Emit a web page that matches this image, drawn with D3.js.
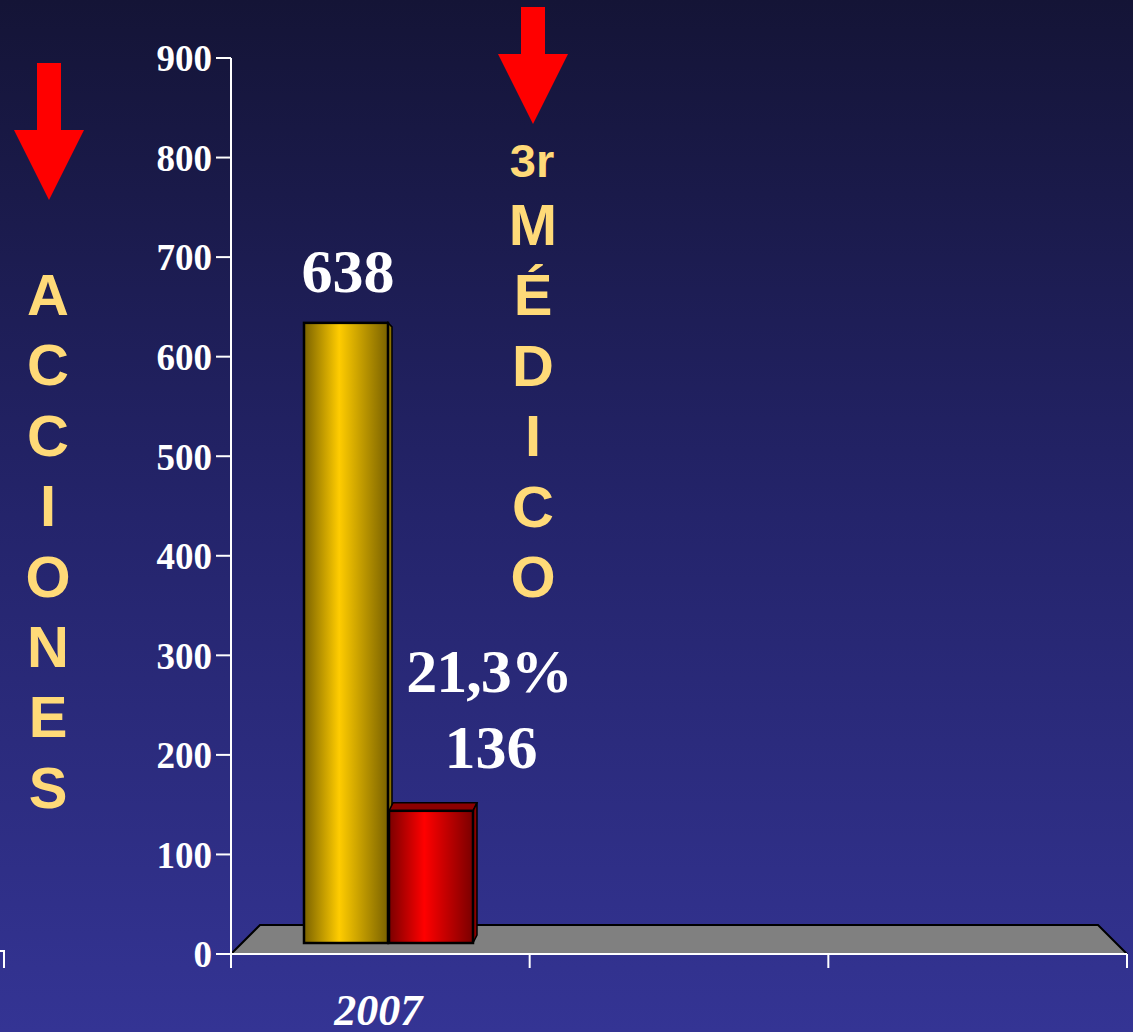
<!DOCTYPE html>
<html>
<head>
<meta charset="utf-8">
<script src="https://cdn.jsdelivr.net/npm/d3@7/dist/d3.min.js"></script>
<style>
  html, body { margin: 0; padding: 0; background: #1a1a48; }
  svg { display: block; }
</style>
</head>
<body>
<svg id="chart" width="1133" height="1032"></svg>
<script>
// data
const years = ["2007", "", ""];
const series = ["acciones", "medico"];
const values = [638, 136];
const percentLabel = "21,3%";
const yTicks = [0, 100, 200, 300, 400, 500, 600, 700, 800, 900];
const leftWord = ["A", "C", "C", "I", "O", "N", "E", "S"];
const rightWord = ["M", "É", "D", "I", "C", "O"];

const svg = d3.select('#chart');
const W = 1133, H = 1032;

// background gradient
const defs = svg.append('defs');
const bg = defs.append('linearGradient').attr('id', 'bg')
    .attr('x1', 0).attr('y1', 0).attr('x2', 0).attr('y2', 1);
bg.append('stop').attr('offset', '0%').attr('stop-color', '#141436');
bg.append('stop').attr('offset', '50%').attr('stop-color', '#24246b');
bg.append('stop').attr('offset', '100%').attr('stop-color', '#343494');

function barGrad(id, dark, bright) {
    const g = defs.append('linearGradient').attr('id', id)
        .attr('x1', 0).attr('y1', 0).attr('x2', 1).attr('y2', 0);
    g.append('stop').attr('offset', '0%').attr('stop-color', dark);
    g.append('stop').attr('offset', '42%').attr('stop-color', bright);
    g.append('stop').attr('offset', '100%').attr('stop-color', dark);
}
barGrad('gold', '#7a6200', '#ffcc00');
barGrad('red', '#7a0000', '#ff0000');
const fills = ['url(#gold)', 'url(#red)'];
const sideFills = ['#8a7000', '#8c0000'];

svg.append('rect').attr('width', W).attr('height', H).attr('fill', 'url(#bg)');

// scales
const x0 = 231, x1 = 1127, y0 = 954;
const x = d3.scaleBand().domain(d3.range(years.length)).range([x0, x1]);
const y = d3.scaleLinear().domain([0, 900]).range([y0, 58]);
// bars stand on the floor, which is pushed back a little
const floorY = 943;
const yBar = d3.scaleLinear().domain([0, 900]).range([floorY, floorY - 0.972 * 900]);
const xs = d3.scaleBand().domain(series)
    .range([x(0) + 73, x(0) + 73 + 169]).paddingInner(0.012);

// floor
const depth = 29;
svg.append('path')
    .attr('d', `M${x0},${y0} L${x0 + depth},${y0 - depth} L${x1 - depth},${y0 - depth} L${x1},${y0}`)
    .attr('fill', '#808080').attr('stroke', '#000').attr('stroke-width', 2);

// bars
const dx = 4, dy = 8;
series.forEach((s, i) => {
    const bx = xs(s), bw = xs.bandwidth();
    const top = yBar(values[i]);
    const g = svg.append('g');
    if (i === 0) {
        g.append('path')
            .attr('d', `M${bx + bw},${top} L${bx + bw + dx},${top + dx} L${bx + bw + dx},${floorY - 3} L${bx + bw},${floorY} Z`)
            .attr('fill', sideFills[i]).attr('stroke', '#000').attr('stroke-width', 1.5);
    } else {
        g.append('path')
            .attr('d', `M${bx},${top} L${bx + dx},${top - dy} L${bx + bw + dx},${top - dy} L${bx + bw},${top} Z`)
            .attr('fill', '#8c0000').attr('stroke', '#000').attr('stroke-width', 1.5);
        g.append('path')
            .attr('d', `M${bx + bw},${top} L${bx + bw + dx},${top - dy} L${bx + bw + dx},${floorY - dy} L${bx + bw},${floorY} Z`)
            .attr('fill', sideFills[i]).attr('stroke', '#000').attr('stroke-width', 1.5);
    }
    g.append('rect')
        .attr('x', bx).attr('y', top)
        .attr('width', bw).attr('height', floorY - top)
        .attr('fill', fills[i]).attr('stroke', '#000').attr('stroke-width', 2.5);
});

// axes
const axisG = svg.append('g').attr('stroke', '#fff').attr('stroke-width', 2);
axisG.append('line').attr('x1', x0).attr('x2', x0).attr('y1', y(900)).attr('y2', y0 + 14);
axisG.append('line').attr('x1', x0).attr('x2', x1).attr('y1', y0).attr('y2', y0);
axisG.selectAll('.ytick').data(yTicks).enter().append('line')
    .attr('x1', x0 - 15).attr('x2', x0)
    .attr('y1', d => y(d)).attr('y2', d => y(d));
const xTickPos = years.map((d, i) => x(i)).concat([x1]);
axisG.selectAll('.xtick').data(xTickPos).enter().append('line')
    .attr('x1', d => d).attr('x2', d => d)
    .attr('y1', y0).attr('y2', y0 + 14);
// stray tick at the far left
axisG.append('path').attr('fill', 'none')
    .attr('d', `M0,${y0 - 3} L4,${y0 - 3} L4,${y0 + 14}`);

svg.selectAll('.ylab').data(yTicks).enter().append('text')
    .attr('x', x0 - 19).attr('y', d => y(d))
    .attr('dy', '0.36em')
    .attr('text-anchor', 'end')
    .attr('font-family', 'Liberation Serif, Times New Roman, serif')
    .attr('font-weight', 'bold').attr('font-size', 37)
    .attr('fill', '#fff')
    .text(d => d);

svg.selectAll('.xlab').data(years).enter().append('text')
    .attr('x', (d, i) => x(i) + x.bandwidth() / 2 - 2)
    .attr('y', 1025)
    .attr('text-anchor', 'middle')
    .attr('font-family', 'Liberation Serif, Times New Roman, serif')
    .attr('font-weight', 'bold').attr('font-style', 'italic')
    .attr('font-size', 44)
    .attr('fill', '#fff')
    .text(d => d);

// value labels
const serif = 'Liberation Serif, Times New Roman, serif';
svg.append('text')
    .attr('x', xs('acciones') + xs.bandwidth() / 2 + 2)
    .attr('y', yBar(values[0]) - 31)
    .attr('text-anchor', 'middle').attr('font-family', serif)
    .attr('font-weight', 'bold').attr('font-size', 62).attr('fill', '#fff')
    .text(values[0]);
svg.append('text')
    .attr('x', xs('medico') + xs.bandwidth() / 2 + 58)
    .attr('y', yBar(values[1]) - 119)
    .attr('text-anchor', 'middle').attr('font-family', serif)
    .attr('font-weight', 'bold').attr('font-size', 62).attr('fill', '#fff')
    .attr('letter-spacing', -1)
    .text(percentLabel);
svg.append('text')
    .attr('x', xs('medico') + xs.bandwidth() / 2 + 60)
    .attr('y', yBar(values[1]) - 43)
    .attr('text-anchor', 'middle').attr('font-family', serif)
    .attr('font-weight', 'bold').attr('font-size', 62).attr('fill', '#fff')
    .text(values[1]);

// arrows
function arrow(cx, top, shaftBottom, tip) {
    svg.append('path')
        .attr('d', `M${cx - 12},${top} L${cx + 12},${top} L${cx + 12},${shaftBottom} L${cx + 35},${shaftBottom} L${cx},${tip} L${cx - 35},${shaftBottom} L${cx - 12},${shaftBottom} Z`)
        .attr('fill', '#ff0000');
}
arrow(49, 63, 130, 200);
arrow(533, 7, 54, 124);

// vertical words
const sans = 'Liberation Sans, Arial, sans-serif';
const yellow = '#ffda78';
svg.selectAll('.lw').data(leftWord).enter().append('text')
    .attr('x', 48).attr('y', (d, i) => 315 + i * 70.4)
    .attr('text-anchor', 'middle').attr('font-family', sans)
    .attr('font-weight', 'bold').attr('font-size', 58).attr('fill', yellow)
    .text(d => d);
svg.append('text')
    .attr('x', 532).attr('y', 177)
    .attr('text-anchor', 'middle').attr('font-family', sans)
    .attr('font-weight', 'bold').attr('font-size', 47).attr('fill', yellow)
    .text('3r');
svg.selectAll('.rw').data(rightWord).enter().append('text')
    .attr('x', 533).attr('y', (d, i) => 245 + i * 70.4)
    .attr('text-anchor', 'middle').attr('font-family', sans)
    .attr('font-weight', 'bold').attr('font-size', 58).attr('fill', yellow)
    .text(d => d);
</script>
</body>
</html>
